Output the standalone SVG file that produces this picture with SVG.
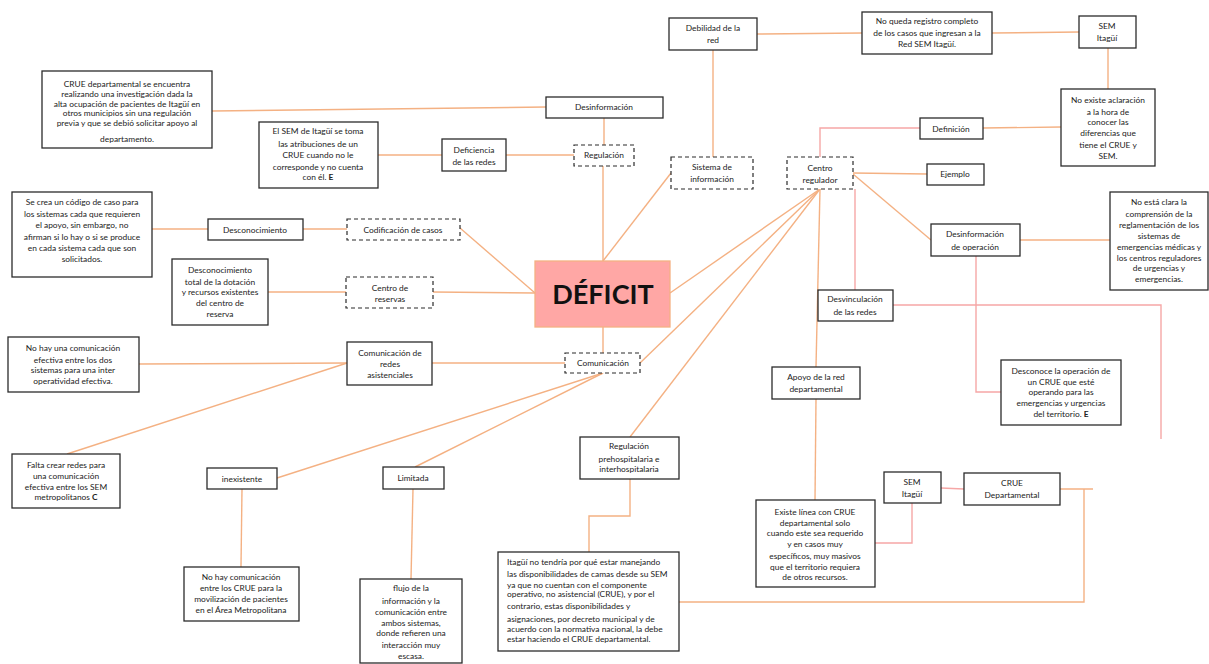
<svg xmlns="http://www.w3.org/2000/svg" width="1209" height="664" viewBox="0 0 1209 664">
<style>
.b{fill:#fff;stroke:#2b2b2b;stroke-width:1.3}
.d{fill:#fff;stroke:#2b2b2b;stroke-width:1.2;stroke-dasharray:4 3}
.t{font-family:Lato,"Liberation Sans",sans-serif;font-size:8.4px;fill:#222;text-anchor:middle}
.l{text-anchor:start}
.o{fill:none;stroke:#F4B183;stroke-width:1.4}
.p{fill:none;stroke:#F6A7A6;stroke-width:1.4}
</style>
<rect width="1209" height="664" fill="#fff"/>
<g id="connectors">
<path class="o" d="M212 111 L546 107"/>
<path class="o" d="M604 118 V145"/>
<path class="o" d="M377 155 H442"/>
<path class="o" d="M506 155 H574"/>
<path class="o" d="M603 166 V261"/>
<path class="o" d="M671 173 L603 261"/>
<path class="o" d="M713 50 V157"/>
<path class="o" d="M757 34 L862 33"/>
<path class="o" d="M992 33 L1079 32"/>
<path class="o" d="M1108 48 V89"/>
<path class="o" d="M1061 127 L983 128"/>
<path class="p" d="M920 128 H820 V157"/>
<path class="o" d="M853 173 L927 174"/>
<path class="o" d="M853 174 L931 240"/>
<path class="p" d="M855 189 V290"/>
<path class="o" d="M820 189 L670 293"/>
<path class="o" d="M820 189 L640 363"/>
<path class="o" d="M820 189 L630 437"/>
<path class="o" d="M820 189 L816 367"/>
<path class="o" d="M1020 240 H1110"/>
<path class="p" d="M893 305 H1161 V439"/>
<path class="p" d="M976 256 V392 H1001"/>
<path class="o" d="M603 327 V353"/>
<path class="o" d="M565 363 H432"/>
<path class="o" d="M347 363 L139 364"/>
<path class="o" d="M347 363 L67 454"/>
<path class="o" d="M603 373 L277 478"/>
<path class="o" d="M603 373 L415 467"/>
<path class="o" d="M242 489 L241 567"/>
<path class="o" d="M413 489 L411 579"/>
<path class="o" d="M630 479 V516 H589 V552"/>
<path class="o" d="M679 602 H1084 V489"/>
<path class="o" d="M1060 489 H1093"/>
<path class="p" d="M941 488 L964 489"/>
<path class="p" d="M875 543 H912 V503"/>
<path class="o" d="M816 399 L815 500"/>
<path class="o" d="M460 228 L535 293"/>
<path class="o" d="M433 292 L535 293"/>
<path class="o" d="M303 229 H347"/>
<path class="o" d="M152 229 H208"/>
<path class="o" d="M268 292 H346"/>
</g>
<g id="deficit">
<rect x="535" y="261" width="135" height="66" fill="#FFA7A5" stroke="#F4B183" stroke-width="1.3"/>
<text x="603" y="304" font-family="Lato,'Liberation Sans',sans-serif" font-size="27" font-weight="bold" text-anchor="middle" fill="#111">DÉFICIT</text>
</g>
<g id="n1"><rect class="b" x="42" y="71" width="170" height="77"/>
<text class="t"><tspan x="127" y="87">CRUE departamental se encuentra</tspan><tspan x="127" y="97">realizando una investigación dada la</tspan><tspan x="127" y="107">alta ocupación de pacientes de Itagüí en</tspan><tspan x="127" y="116">otros municipios sin una regulación</tspan><tspan x="127" y="126">previa y que se debió solicitar apoyo al</tspan><tspan x="127" y="142">departamento.</tspan></text></g>
<g id="n2"><rect class="b" x="259" y="122" width="119" height="66"/>
<text class="t"><tspan x="318" y="134">El SEM de Itagüí se toma</tspan><tspan x="318" y="147">las atribuciones de un</tspan><tspan x="318" y="158">CRUE cuando no le</tspan><tspan x="318" y="170">corresponde y no cuenta</tspan><tspan x="318" y="180">con él. <tspan font-weight="bold">E</tspan></tspan></text></g>
<g id="n3"><rect class="b" x="546" y="97" width="117" height="21"/>
<text class="t" x="604" y="110">Desinformación</text></g>
<g id="n4"><rect class="b" x="442" y="139" width="64" height="32"/>
<text class="t"><tspan x="474" y="153">Deficiencia</tspan><tspan x="474" y="165">de las redes</tspan></text></g>
<g id="n5"><rect class="d" x="574" y="145" width="60" height="21"/>
<text class="t" x="604" y="158">Regulación</text></g>
<g id="n6"><rect class="b" x="669" y="18" width="88" height="32"/>
<text class="t"><tspan x="713" y="31">Debilidad de la</tspan><tspan x="713" y="43">red</tspan></text></g>
<g id="n7"><rect class="d" x="671" y="157" width="82" height="32"/>
<text class="t"><tspan x="712" y="170">Sistema de</tspan><tspan x="712" y="182">información</tspan></text></g>
<g id="n8"><rect class="d" x="787" y="157" width="66" height="32"/>
<text class="t"><tspan x="820" y="171">Centro</tspan><tspan x="820" y="183">regulador</tspan></text></g>
<g id="n9"><rect class="b" x="862" y="12" width="130" height="42"/>
<text class="t"><tspan x="927" y="24">No queda registro completo</tspan><tspan x="927" y="36">de los casos que ingresan a la</tspan><tspan x="927" y="47">Red SEM Itagüí.</tspan></text></g>
<g id="n10"><rect class="b" x="1079" y="16" width="57" height="32"/>
<text class="t"><tspan x="1107" y="29">SEM</tspan><tspan x="1107" y="41">Itagüí</tspan></text></g>
<g id="n11"><rect class="b" x="1061" y="89" width="94" height="77"/>
<text class="t"><tspan x="1108" y="103">No existe aclaración</tspan><tspan x="1108" y="115">a la hora de</tspan><tspan x="1108" y="125">conocer las</tspan><tspan x="1108" y="136">diferencias que</tspan><tspan x="1108" y="148">tiene el CRUE y</tspan><tspan x="1108" y="159">SEM.</tspan></text></g>
<g id="n12"><rect class="b" x="920" y="118" width="63" height="21"/>
<text class="t" x="951" y="132">Definición</text></g>
<g id="n13"><rect class="b" x="927" y="164" width="57" height="21"/>
<text class="t" x="955" y="177">Ejemplo</text></g>
<g id="n14"><rect class="b" x="1110" y="192" width="98" height="98"/>
<text class="t"><tspan x="1159" y="205">No está clara la</tspan><tspan x="1159" y="217">comprensión de la</tspan><tspan x="1159" y="228">reglamentación de los</tspan><tspan x="1159" y="239">sistemas de</tspan><tspan x="1159" y="250">emergencias médicas y</tspan><tspan x="1159" y="261">los centros reguladores</tspan><tspan x="1159" y="271">de urgencias y</tspan><tspan x="1159" y="282">emergencias.</tspan></text></g>
<g id="n15"><rect class="b" x="931" y="224" width="89" height="32"/>
<text class="t"><tspan x="975" y="237">Desinformación</tspan><tspan x="975" y="250">de operación</tspan></text></g>
<g id="n16"><rect class="b" x="818" y="290" width="75" height="31"/>
<text class="t"><tspan x="855" y="302">Desvinculación</tspan><tspan x="855" y="315">de las redes</tspan></text></g>
<g id="n17"><rect class="b" x="1001" y="360" width="120" height="65"/>
<text class="t"><tspan x="1061" y="374">Desconoce la operación de</tspan><tspan x="1061" y="385">un CRUE que esté</tspan><tspan x="1061" y="395">operando para las</tspan><tspan x="1061" y="406">emergencias y urgencias</tspan><tspan x="1061" y="417">del territorio. <tspan font-weight="bold">E</tspan></tspan></text></g>
<g id="n18"><rect class="b" x="12" y="192" width="140" height="85"/>
<text class="t"><tspan x="82" y="205">Se crea un código de caso para</tspan><tspan x="82" y="217">los sistemas cada que requieren</tspan><tspan x="82" y="228">el apoyo, sin embargo, no</tspan><tspan x="82" y="240">afirman si lo hay o si se produce</tspan><tspan x="82" y="251">en cada sistema cada que son</tspan><tspan x="82" y="262">solicitados.</tspan></text></g>
<g id="n19"><rect class="b" x="208" y="219" width="95" height="21"/>
<text class="t" x="255" y="233">Desconocimiento</text></g>
<g id="n20"><rect class="d" x="347" y="219" width="113" height="21"/>
<text class="t" x="403" y="233">Codificación de casos</text></g>
<g id="n21"><rect class="b" x="172" y="259" width="96" height="66"/>
<text class="t"><tspan x="220" y="273">Desconocimiento</tspan><tspan x="220" y="285">total de la dotación</tspan><tspan x="220" y="295">y recursos existentes</tspan><tspan x="220" y="306">del centro de</tspan><tspan x="220" y="317">reserva</tspan></text></g>
<g id="n22"><rect class="d" x="346" y="277" width="87" height="31"/>
<text class="t"><tspan x="390" y="291">Centro de</tspan><tspan x="390" y="302">reservas</tspan></text></g>
<g id="n23"><rect class="b" x="8" y="337" width="131" height="55"/>
<text class="t"><tspan x="73" y="351">No hay una comunicación</tspan><tspan x="73" y="363">efectiva entre los dos</tspan><tspan x="73" y="373">sistemas para una inter</tspan><tspan x="73" y="384">operatividad efectiva.</tspan></text></g>
<g id="n24"><rect class="b" x="347" y="342" width="85" height="43"/>
<text class="t"><tspan x="390" y="356">Comunicación de</tspan><tspan x="390" y="367">redes</tspan><tspan x="390" y="378">asistenciales</tspan></text></g>
<g id="n25"><rect class="b" x="12" y="454" width="108" height="54"/>
<text class="t"><tspan x="66" y="468">Falta crear redes para</tspan><tspan x="66" y="479">una comunicación</tspan><tspan x="66" y="490">efectiva entre los SEM</tspan><tspan x="66" y="500">metropolitanos <tspan font-weight="bold">C</tspan></tspan></text></g>
<g id="n26"><rect class="b" x="207" y="468" width="70" height="21"/>
<text class="t" x="242" y="482">inexistente</text></g>
<g id="n27"><rect class="b" x="383" y="467" width="61" height="22"/>
<text class="t" x="413" y="481">Limitada</text></g>
<g id="n28"><rect class="d" x="565" y="353" width="75" height="20"/>
<text class="t" x="603" y="366">Comunicación</text></g>
<g id="n29"><rect class="b" x="184" y="567" width="115" height="54"/>
<text class="t"><tspan x="241" y="580">No hay comunicación</tspan><tspan x="241" y="591">entre los CRUE para la</tspan><tspan x="241" y="602">movilización de pacientes</tspan><tspan x="241" y="613">en el Área Metropolitana</tspan></text></g>
<g id="n30"><rect class="b" x="360" y="579" width="102" height="84"/>
<text class="t"><tspan x="411" y="591">flujo de la</tspan><tspan x="411" y="604">información y la</tspan><tspan x="411" y="615">comunicación entre</tspan><tspan x="411" y="626">ambos sistemas,</tspan><tspan x="411" y="636">donde refieren una</tspan><tspan x="411" y="648">interacción muy</tspan><tspan x="411" y="659">escasa.</tspan></text></g>
<g id="n31"><rect class="b" x="580" y="437" width="99" height="42"/>
<text class="t"><tspan x="629" y="449">Regulación</tspan><tspan x="629" y="462">prehospitalaria e</tspan><tspan x="629" y="472">interhospitalaria</tspan></text></g>
<g id="n32"><rect class="b" x="498" y="552" width="181" height="99"/>
<text class="t l"><tspan x="507" y="565">Itagüí no tendría por qué estar manejando</tspan><tspan x="507" y="577">las disponibilidades de camas desde su SEM</tspan><tspan x="507" y="588">ya que no cuentan con el componente</tspan><tspan x="507" y="597">operativo, no asistencial (CRUE), y por el</tspan><tspan x="507" y="609">contrario, estas disponibilidades y</tspan><tspan x="507" y="622">asignaciones, por decreto municipal y de</tspan><tspan x="507" y="632">acuerdo con la normativa nacional, la debe</tspan><tspan x="507" y="642">estar haciendo el CRUE departamental.</tspan></text></g>
<g id="n33"><rect class="b" x="772" y="367" width="88" height="32"/>
<text class="t"><tspan x="816" y="380">Apoyo de la red</tspan><tspan x="816" y="392">departamental</tspan></text></g>
<g id="n34"><rect class="b" x="756" y="500" width="119" height="87"/>
<text class="t"><tspan x="815" y="515">Existe línea con CRUE</tspan><tspan x="815" y="526">departamental solo</tspan><tspan x="815" y="536">cuando este sea requerido</tspan><tspan x="815" y="547">y en casos muy</tspan><tspan x="815" y="559">específicos, muy masivos</tspan><tspan x="815" y="570">que el territorio requiera</tspan><tspan x="815" y="580">de otros recursos.</tspan></text></g>
<g id="n35"><rect class="b" x="884" y="472" width="57" height="31"/>
<text class="t"><tspan x="912" y="485">SEM</tspan><tspan x="912" y="497">Itagüí</tspan></text></g>
<g id="n36"><rect class="b" x="964" y="473" width="96" height="32"/>
<text class="t"><tspan x="1012" y="486">CRUE</tspan><tspan x="1012" y="498">Departamental</tspan></text></g>
</svg>
